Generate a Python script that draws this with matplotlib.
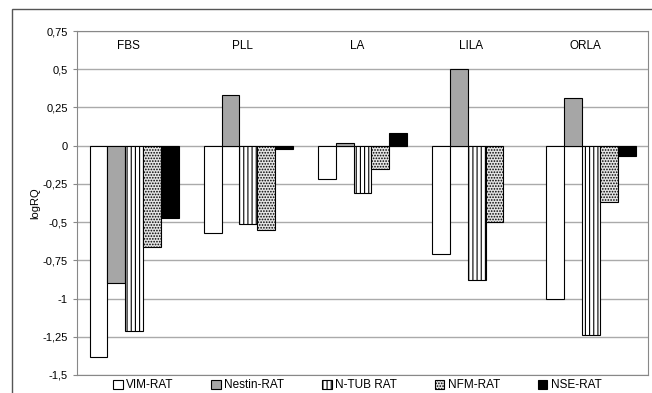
import matplotlib.pyplot as plt
import numpy as np
from matplotlib.patches import Rectangle
from matplotlib.ticker import FuncFormatter

plt.rcParams["font.family"] = ["Liberation Sans", "DejaVu Sans"]
plt.rcParams["hatch.linewidth"] = 0.8

groups = ["FBS", "PLL", "LA", "LILA", "ORLA"]
series = ["VIM-RAT", "Nestin-RAT", "N-TUB RAT", "NFM-RAT", "NSE-RAT"]
vim = [-1.38, -0.57, -0.22, -0.71, -1.00]
nestin = [-0.90, 0.33, 0.02, 0.50, 0.31]
ntub = [-1.21, -0.51, -0.31, -0.88, -1.24]
nfm = [-0.66, -0.55, -0.15, -0.50, -0.37]
nse = [-0.47, -0.02, 0.08, np.nan, -0.07]
values = [vim, nestin, ntub, nfm, nse]

styles = [
    dict(color="white", hatch=None),
    dict(color="#a6a6a6", hatch=None),
    dict(color="white", hatch="||||"),
    dict(color="#e4e4e4", hatch="......"),
    dict(color="black", hatch=None),
]

fig = plt.figure(figsize=(6.52, 3.93), dpi=100)
ax = fig.add_axes([0.118, 0.046, 0.876, 0.875])

# outer chart frame
fig.patches.append(Rectangle((12 / 652, -0.1), 1.2, 1 - 9 / 393 + 0.1,
                             transform=fig.transFigure, fill=False,
                             edgecolor="#555555", linewidth=1.0))

x = np.arange(len(groups))
w = 0.156
for i, (name, vals, st) in enumerate(zip(series, values, styles)):
    ax.bar(x + (i - 2) * w, vals, width=w, color=st["color"], hatch=st["hatch"],
           edgecolor="black", linewidth=0.8, label=name, zorder=3)

for xi, g in zip(x, groups):
    ax.text(xi - 0.05, 0.655, g, ha="center", va="center", fontsize=8.5)

ax.set_xlim(-0.5, 4.5)
ax.set_ylim(-1.5, 0.75)
ax.set_yticks(np.arange(-1.5, 0.76, 0.25))
ax.yaxis.set_major_formatter(FuncFormatter(
    lambda v, p: ("%g" % round(v, 2)).replace(".", ",")))
ax.tick_params(axis="y", labelsize=8, length=3, color="#888888")
ax.set_xticks([])
ax.grid(axis="y", color="#aaaaaa", linewidth=1.0, zorder=0)
for s in ax.spines.values():
    s.set_color("#888888")
ax.set_ylabel("logRQ", fontsize=8, labelpad=2)

fig.legend(loc="center", bbox_to_anchor=(0.548, 0.02), ncol=5, frameon=False,
           fontsize=8.5, handlelength=0.8, handleheight=0.8, handletextpad=0.3,
           columnspacing=3.2, borderpad=0)

fig.savefig("out.png", dpi=100)
